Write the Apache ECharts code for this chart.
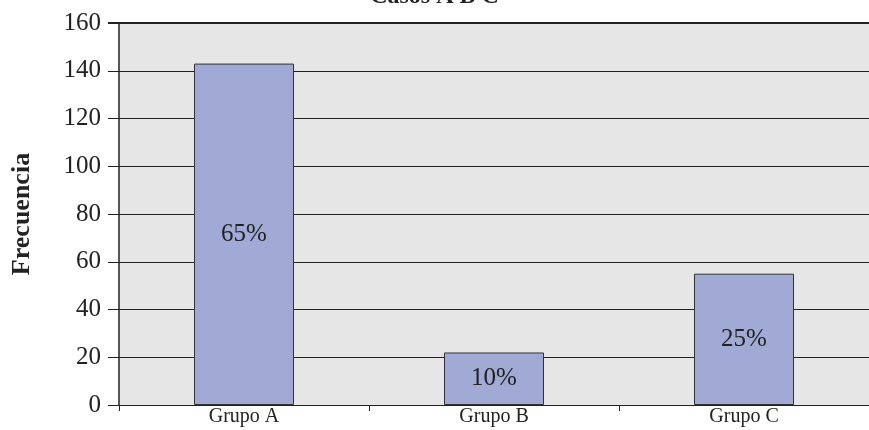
<!DOCTYPE html>
<html>
<head>
<meta charset="utf-8">
<script src="https://cdn.jsdelivr.net/npm/echarts@6/dist/echarts.min.js"></script>
<style>
    html, body { margin: 0; padding: 0; background: #fff; }
    #chart { width: 869px; height: 430px; }
</style>
</head>
<body>
<div id="chart"></div>
<script>
// datos del grafico
var categorias = ['Grupo A', 'Grupo B', 'Grupo C'];
var frecuencias = [143, 22, 55];
var porcentajes = ['65%', '10%', '25%'];
var ticksY = [0, 20, 40, 60, 80, 100, 120, 140, 160];

var fuente = '"Liberation Serif", "DejaVu Serif", serif';

var chart = echarts.init(document.getElementById('chart'));

chart.setOption({
    animation: false,
    title: {
        text: 'Casos A B C',
        left: 'center',
        top: -20,
        textStyle: { fontFamily: fuente, fontSize: 24, fontWeight: 'bold', color: '#222' }
    },
    grid: {
        left: 119, right: -6, top: 23, bottom: 25,
        show: true,
        backgroundColor: '#e6e6e6',
        borderWidth: 0
    },
    xAxis: {
        type: 'category',
        data: categorias,
        axisLine: { lineStyle: { color: '#222', width: 1 } },
        axisTick: { show: true, length: 6, lineStyle: { color: '#222' } },
        axisLabel: { fontFamily: fuente, fontSize: 20, color: '#222', margin: 2 }
    },
    yAxis: {
        type: 'value',
        min: ticksY[0],
        max: ticksY[ticksY.length - 1],
        interval: 20,
        name: 'Frecuencia',
        nameLocation: 'middle',
        nameGap: 84,
        nameTextStyle: { fontFamily: fuente, fontSize: 26, fontWeight: 'bold', color: '#222' },
        axisLine: { show: true, lineStyle: { color: '#222', width: 1.5 } },
        axisTick: { show: true, length: 11, lineStyle: { color: '#222' } },
        axisLabel: { fontFamily: fuente, fontSize: 25, color: '#222', margin: 18 },
        splitLine: { show: true, lineStyle: { color: '#222', width: 1 } }
    },
    series: [
        {
            type: 'bar',
            data: frecuencias,
            barWidth: '40%',
            itemStyle: { color: '#a1a9d5', borderColor: '#333', borderWidth: 1 },
            label: {
                show: true,
                position: 'inside',
                fontFamily: fuente,
                fontSize: 25,
                color: '#222',
                formatter: function (p) { return porcentajes[p.dataIndex]; }
            }
        }
    ]
});

// borde superior mas grueso
chart.setOption({
    graphic: [{
        type: 'line',
        shape: { x1: 108, y1: 23, x2: 869, y2: 23 },
        style: { stroke: '#222', lineWidth: 2 }
    }]
});
</script>
</body>
</html>
